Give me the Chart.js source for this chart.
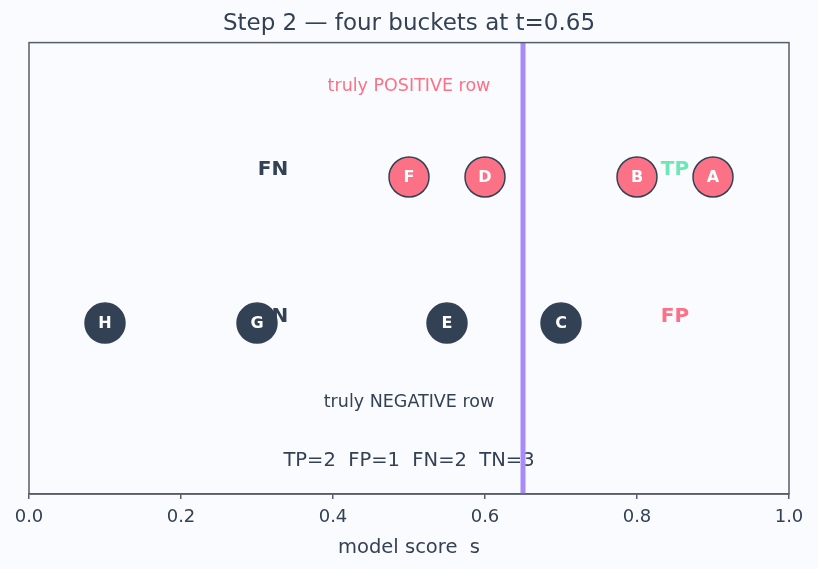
<!DOCTYPE html>
<html>
<head>
<meta charset="utf-8">
<script src="https://cdn.jsdelivr.net/npm/chart.js@4"></script>
<style>
  html, body { margin: 0; padding: 0; background: #fafbfe; }
  #wrap { width: 818px; height: 569px; }
</style>
</head>
<body>
<div id="wrap"><canvas id="chart" width="818" height="569"></canvas></div>
<script>
// data
const posLabels = ['F', 'D', 'B', 'A'];
const posScores = [0.5, 0.6, 0.8, 0.9];
const negLabels = ['H', 'G', 'E', 'C'];
const negScores = [0.1, 0.3, 0.55, 0.7];
const rowPos = 1;
const rowNeg = 0;
const threshold = 0.65;
const xTicks = [0, 0.2, 0.4, 0.6, 0.8, 1.0];
const counts = 'TP=2  FP=1  FN=2  TN=3';

const ink = '#334155';
const rose = '#fb7185';
const mint = '#6ee7b7';
const violet = '#a78bfa';
const frame = '#555d6b';

// text notes drawn in data coords
const notes = [
  { text: 'truly POSITIVE row', x: 0.5, y: 1.62, color: rose, font: '17.5px "DejaVu Sans"' },
  { text: 'FN', x: 0.321, y: rowPos + 0.05, color: ink, font: 'bold 20px "DejaVu Sans"' },
  { text: 'TP', x: 0.85, y: rowPos + 0.05, color: mint, font: 'bold 20px "DejaVu Sans"' },
  { text: 'TN', x: 0.321, y: rowNeg + 0.04, color: ink, font: 'bold 20px "DejaVu Sans"' },
  { text: 'FP', x: 0.85, y: rowNeg + 0.04, color: rose, font: 'bold 20px "DejaVu Sans"' },
  { text: 'truly NEGATIVE row', x: 0.5, y: -0.54, color: ink, font: '17.5px "DejaVu Sans"' },
  { text: counts, x: 0.5, y: -0.945, color: ink, font: '19.5px "DejaVu Sans"' }
];

const notesPlugin = {
  id: 'notes',
  beforeDatasetsDraw(chart) {
    const { ctx, scales } = chart;
    ctx.save();
    ctx.textAlign = 'center';
    ctx.textBaseline = 'middle';
    notes.forEach(n => {
      ctx.font = n.font;
      ctx.fillStyle = n.color;
      ctx.fillText(n.text, scales.x.getPixelForValue(n.x), scales.y.getPixelForValue(n.y));
    });
    ctx.restore();
  },
  afterDatasetsDraw(chart) {
    const { ctx } = chart;
    ctx.save();
    ctx.textAlign = 'center';
    ctx.textBaseline = 'middle';
    ctx.font = 'bold 16px "DejaVu Sans"';
    ctx.fillStyle = '#ffffff';
    chart.data.datasets.forEach((ds, i) => {
      if (!ds.names) return;
      chart.getDatasetMeta(i).data.forEach((pt, j) => {
        ctx.fillText(ds.names[j], pt.x, pt.y + 1);
      });
    });
    // plot frame
    const a = chart.chartArea;
    ctx.strokeStyle = frame;
    ctx.lineWidth = 1.5;
    ctx.strokeRect(a.left, a.top, a.right - a.left, a.bottom - a.top);
    ctx.restore();
  }
};

const yMin = -1.17, yMax = 1.92;

new Chart(document.getElementById('chart'), {
  type: 'scatter',
  data: {
    datasets: [
      {
        data: posScores.map(s => ({ x: s, y: rowPos })),
        names: posLabels,
        pointRadius: 20,
        pointHoverRadius: 20,
        backgroundColor: rose,
        borderColor: ink,
        borderWidth: 1.5,
        order: 2
      },
      {
        data: negScores.map(s => ({ x: s, y: rowNeg })),
        names: negLabels,
        pointRadius: 20,
        pointHoverRadius: 20,
        backgroundColor: ink,
        borderColor: ink,
        borderWidth: 1.5,
        order: 3
      },
      {
        type: 'line',
        data: [{ x: threshold, y: yMin }, { x: threshold, y: yMax }],
        borderColor: violet,
        borderWidth: 5,
        pointRadius: 0,
        order: 1
      }
    ]
  },
  options: {
    responsive: false,
    animation: false,
    events: [],
    layout: { padding: { left: 29, right: 29, bottom: 5 } },
    plugins: {
      legend: { display: false },
      tooltip: { enabled: false },
      title: {
        display: true,
        text: 'Step 2 — four buckets at t=0.65',
        color: ink,
        font: { family: 'DejaVu Sans', size: 23, weight: 'normal' },
        padding: { top: 10, bottom: 5 }
      }
    },
    scales: {
      x: {
        type: 'linear',
        min: 0,
        max: 1,
        afterBuildTicks: axis => { axis.ticks = xTicks.map(v => ({ value: v })); },
        grid: { drawOnChartArea: false, drawTicks: true, tickLength: 5, color: frame, lineWidth: 1.5 },
        border: { display: true, color: frame, width: 1.5 },
        ticks: {
          color: ink,
          padding: 8,
          maxRotation: 0,
          font: { family: 'DejaVu Sans', size: 18 },
          callback: v => Number(v).toFixed(1)
        },
        title: {
          display: true,
          text: 'model score  s',
          color: ink,
          font: { family: 'DejaVu Sans', size: 19.5 },
          padding: { top: 0, bottom: 4 }
        }
      },
      y: { display: false, min: yMin, max: yMax }
    }
  },
  plugins: [notesPlugin]
});
</script>
</body>
</html>
